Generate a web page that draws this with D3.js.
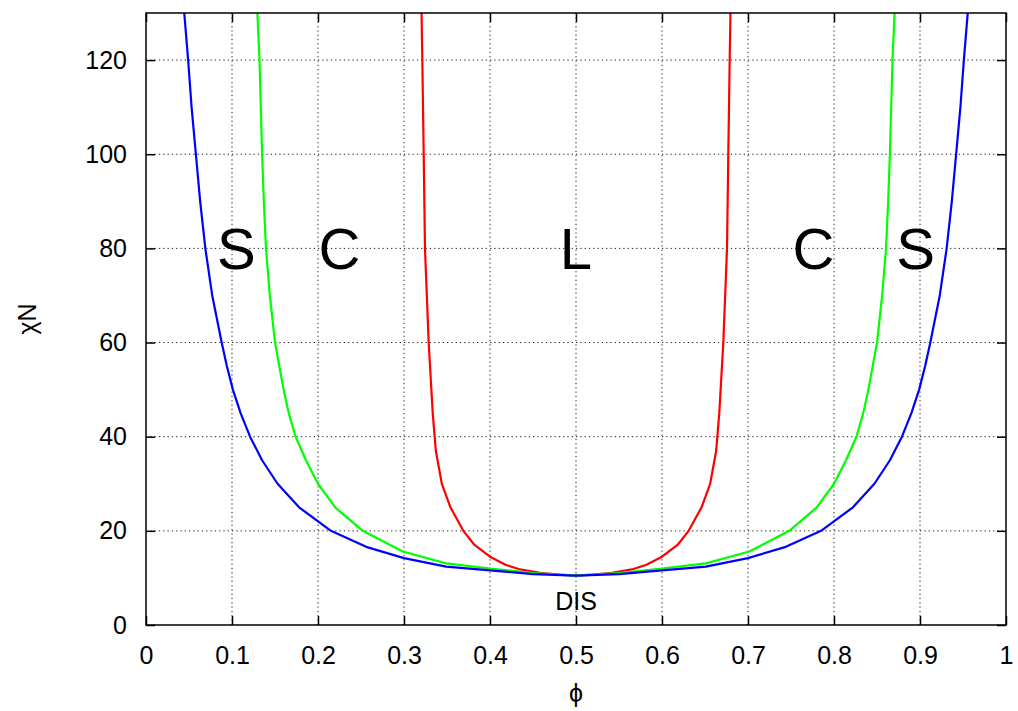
<!DOCTYPE html>
<html>
<head>
<meta charset="utf-8">
<script src="https://cdn.jsdelivr.net/npm/d3@7"></script>
<style>
  body { margin: 0; background: #fff; }
  svg { font-family: "Liberation Sans", Arial, sans-serif; }
</style>
</head>
<body>
<div id="chart"></div>
<script>
// phase boundaries, [phi, chiN]
var disBoundary = [
  [0.040, 140], [0.049, 120], [0.053, 110], [0.058, 100], [0.063, 90], [0.069, 80],
  [0.077, 70], [0.088, 60], [0.094, 55], [0.101, 50], [0.110, 45],
  [0.121, 40], [0.135, 35], [0.153, 30], [0.178, 25], [0.215, 20], [0.256, 16.6],
  [0.300, 14.2], [0.349, 12.4], [0.400, 11.6], [0.450, 10.8], [0.500, 10.5],
  [0.550, 10.8], [0.600, 11.6], [0.651, 12.4], [0.700, 14.2], [0.744, 16.6],
  [0.785, 20], [0.822, 25], [0.847, 30], [0.865, 35], [0.879, 40], [0.890, 45],
  [0.899, 50], [0.906, 55], [0.912, 60], [0.923, 70], [0.931, 80], [0.937, 90],
  [0.942, 100], [0.947, 110], [0.951, 120], [0.960, 140]
];
var scBoundary = [
  [0.127, 140], [0.132, 120], [0.135, 100], [0.137, 90], [0.1395, 80], [0.144, 70],
  [0.150, 60], [0.160, 50], [0.166, 45],
  [0.174, 40], [0.186, 35], [0.200, 30], [0.220, 25], [0.252, 20], [0.2985, 15.6],
  [0.349, 13.1], [0.400, 12.0], [0.450, 11.0], [0.500, 10.5],
  [0.550, 11.0], [0.600, 12.0], [0.651, 13.1], [0.7015, 15.6], [0.748, 20],
  [0.780, 25], [0.800, 30], [0.814, 35], [0.826, 40], [0.834, 45], [0.840, 50],
  [0.850, 60], [0.856, 70], [0.8605, 80], [0.863, 90], [0.865, 100], [0.868, 120],
  [0.873, 140]
];
var clBoundary = [
  [0.3195, 140], [0.3213, 120], [0.3229, 100], [0.3244, 80], [0.3287, 60],
  [0.3334, 45], [0.337, 37], [0.344, 30], [0.354, 25], [0.369, 20], [0.382, 17],
  [0.400, 14.5], [0.418, 12.8], [0.435, 11.8], [0.458, 11.1], [0.480, 10.7],
  [0.500, 10.5],
  [0.520, 10.7], [0.542, 11.1], [0.565, 11.8], [0.582, 12.8], [0.600, 14.5],
  [0.618, 17], [0.631, 20], [0.646, 25], [0.656, 30], [0.663, 37], [0.6666, 45],
  [0.6713, 60], [0.6756, 80], [0.6771, 100], [0.6787, 120], [0.6805, 140]
];
var curves = [
  {name: 'C-L', color: '#ff0000', pts: clBoundary},
  {name: 'S-C', color: '#00ff00', pts: scBoundary},
  {name: 'DIS', color: '#0000ff', pts: disBoundary}
];

var xTicks = [0, 0.1, 0.2, 0.3, 0.4, 0.5, 0.6, 0.7, 0.8, 0.9, 1];
var yTicks = [0, 20, 40, 60, 80, 100, 120];
var phaseLabels = [
  {text: 'S', phi: 0.105, chiN: 80},
  {text: 'C', phi: 0.225, chiN: 80},
  {text: 'L', phi: 0.5, chiN: 80},
  {text: 'C', phi: 0.776, chiN: 80},
  {text: 'S', phi: 0.895, chiN: 80}
];

var width = 1018, height = 711;
var plotLeft = 146, plotRight = 1006, plotTop = 13, plotBottom = 625;

var svg = d3.select('#chart').append('svg')
  .attr('width', width)
  .attr('height', height);

var x = d3.scaleLinear().domain([0, 1]).range([plotLeft, plotRight]);
var y = d3.scaleLinear().domain([0, 130]).range([plotBottom, plotTop]);

// grid
var grid = svg.append('g').attr('class', 'grid');
grid.selectAll('line.gx')
  .data(xTicks.slice(1, -1))
  .enter().append('line')
    .attr('class', 'gx')
    .attr('x1', function(d) { return x(d); })
    .attr('x2', function(d) { return x(d); })
    .attr('y1', plotBottom)
    .attr('y2', plotTop);
grid.selectAll('line.gy')
  .data(yTicks.slice(1))
  .enter().append('line')
    .attr('class', 'gy')
    .attr('x1', plotLeft)
    .attr('x2', plotRight)
    .attr('y1', function(d) { return y(d); })
    .attr('y2', function(d) { return y(d); });
grid.selectAll('line')
  .attr('stroke', '#222')
  .attr('stroke-width', 1)
  .attr('stroke-dasharray', '1.3,3');

// axes with inward ticks
function styleAxis(g) {
  g.select('.domain').remove();
  g.selectAll('.tick line').attr('stroke', '#000').attr('stroke-width', 1.5);
  g.selectAll('.tick text')
    .attr('fill', '#000')
    .style('font-size', '25px')
    .style('font-family', '"Liberation Sans", Arial, sans-serif');
}

svg.append('g')
  .attr('transform', 'translate(0,' + plotBottom + ')')
  .call(d3.axisBottom(x).tickValues(xTicks).tickSize(-9).tickPadding(21).tickFormat(d3.format('~g')))
  .call(styleAxis);
svg.append('g')
  .attr('transform', 'translate(0,' + plotTop + ')')
  .call(d3.axisTop(x).tickValues(xTicks).tickSize(-9).tickFormat(''))
  .call(styleAxis);
svg.append('g')
  .attr('transform', 'translate(' + plotLeft + ',0)')
  .call(d3.axisLeft(y).tickValues(yTicks).tickSize(-9).tickPadding(19))
  .call(styleAxis);
svg.append('g')
  .attr('transform', 'translate(' + plotRight + ',0)')
  .call(d3.axisRight(y).tickValues(yTicks).tickSize(-9).tickFormat(''))
  .call(styleAxis);

// curves
svg.append('clipPath').attr('id', 'plot-clip')
  .append('rect')
    .attr('x', plotLeft).attr('y', plotTop)
    .attr('width', plotRight - plotLeft).attr('height', plotBottom - plotTop);

var line = d3.line()
  .x(function(d) { return x(d[0]); })
  .y(function(d) { return y(d[1]); });

svg.append('g').attr('clip-path', 'url(#plot-clip)')
  .selectAll('path')
  .data(curves)
  .enter().append('path')
    .attr('d', function(d) { return line(d.pts); })
    .attr('fill', 'none')
    .attr('stroke', function(d) { return d.color; })
    .attr('stroke-width', 2.2)
    .attr('stroke-linejoin', 'round');

// frame
svg.append('rect')
  .attr('x', plotLeft).attr('y', plotTop)
  .attr('width', plotRight - plotLeft).attr('height', plotBottom - plotTop)
  .attr('fill', 'none')
  .attr('stroke', '#000')
  .attr('stroke-width', 1.5);

// phase labels
svg.selectAll('text.phase')
  .data(phaseLabels)
  .enter().append('text')
    .attr('class', 'phase')
    .attr('x', function(d) { return x(d.phi); })
    .attr('y', function(d) { return y(d.chiN); })
    .attr('dy', '0.36em')
    .attr('text-anchor', 'middle')
    .style('font-size', '58px')
    .text(function(d) { return d.text; });

svg.append('text')
  .attr('x', x(0.5))
  .attr('y', y(5))
  .attr('dy', '0.36em')
  .attr('text-anchor', 'middle')
  .style('font-size', '25px')
  .text('DIS');

// axis titles
svg.append('text')
  .attr('x', x(0.5))
  .attr('y', 693)
  .attr('dy', '0.36em')
  .attr('text-anchor', 'middle')
  .style('font-size', '25px')
  .text('\u03d5');

svg.append('text')
  .attr('transform', 'translate(27,319) rotate(-90)')
  .attr('dy', '0.36em')
  .attr('text-anchor', 'middle')
  .style('font-size', '25px')
  .text('\u03c7N');
</script>
</body>
</html>
